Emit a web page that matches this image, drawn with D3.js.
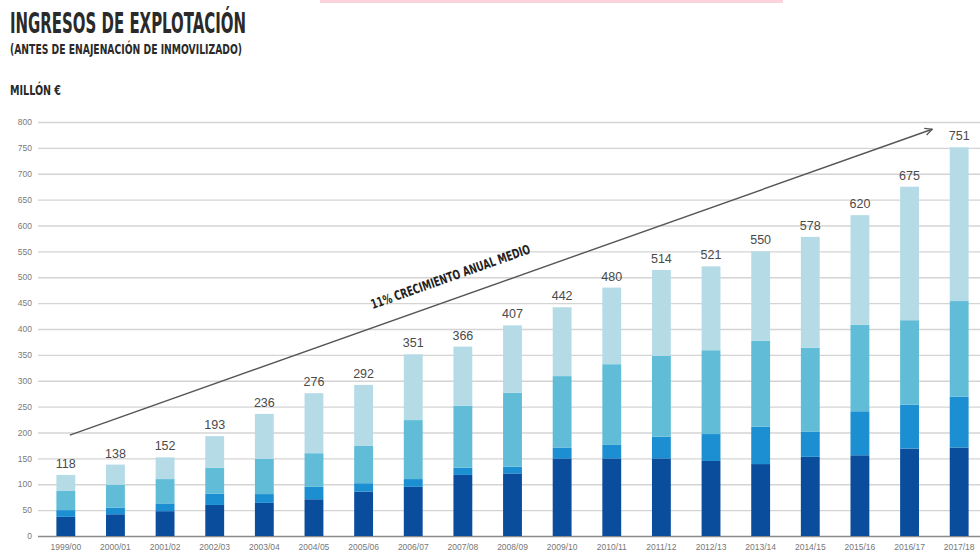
<!DOCTYPE html>
<html>
<head>
<meta charset="utf-8">
<script src="https://cdn.jsdelivr.net/npm/d3@7"></script>
<style>
  html, body { margin: 0; padding: 0; background: #fff; }
  svg { display: block; }
</style>
</head>
<body>
<svg id="chart" width="980" height="560"></svg>
<script>
// Operating revenue by fiscal year, million €
const categories = ["1999/00","2000/01","2001/02","2002/03","2003/04","2004/05","2005/06","2006/07","2007/08","2008/09","2009/10","2010/11","2011/12","2012/13","2013/14","2014/15","2015/16","2016/17","2017/18"];
const seriesDark  = [37, 42, 48, 60, 64, 71, 86, 95, 118, 121, 150, 150, 150, 145, 139, 153, 156, 169, 171];
const seriesMid   = [13, 13, 15, 22, 17, 24, 16, 15, 14, 13, 21, 26, 42, 52, 72, 49, 85, 85, 98];
const seriesLight = [37, 44, 47, 50, 68, 65, 72, 114, 120, 143, 138, 156, 156, 162, 166, 162, 167, 163, 185];
const seriesPale  = [31, 39, 42, 61, 87, 116, 118, 127, 114, 130, 133, 148, 166, 162, 173, 214, 212, 258, 297];
const totals      = [118, 138, 152, 193, 236, 276, 292, 351, 366, 407, 442, 480, 514, 521, 550, 578, 620, 675, 751];
const yTicks      = [0, 50, 100, 150, 200, 250, 300, 350, 400, 450, 500, 550, 600, 650, 700, 750, 800];
const seriesKeys  = ["dark", "mid", "light", "pale"];
const seriesColors = ["#0b4d9d", "#1b8fd2", "#61bdd7", "#b5dce6"];
const trendLabel  = "11% CRECIMIENTO ANUAL MEDIO";

const rows = categories.map((c, i) => ({
  cat: c,
  dark: seriesDark[i], mid: seriesMid[i], light: seriesLight[i], pale: seriesPale[i],
  total: totals[i]
}));

const svg = d3.select("#chart");
const condensed = "'Liberation Sans Narrow', 'DejaVu Sans Condensed', 'Roboto', sans-serif";

// thin header strip along the top edge
svg.append("rect").attr("x", 320).attr("y", 0).attr("width", 463).attr("height", 3).attr("fill", "#fcd3da");

// titles
svg.append("text").attr("x", 10).attr("y", 33)
  .attr("font-family", condensed).attr("font-weight", "bold").attr("font-size", 28)
  .attr("fill", "#2a2a2a").attr("textLength", 236).attr("lengthAdjust", "spacingAndGlyphs")
  .text("INGRESOS DE EXPLOTACIÓN");
svg.append("text").attr("x", 10).attr("y", 54)
  .attr("font-family", condensed).attr("font-weight", "bold").attr("font-size", 14)
  .attr("fill", "#2a2a2a").attr("textLength", 232).attr("lengthAdjust", "spacingAndGlyphs")
  .text("(ANTES DE ENAJENACIÓN DE INMOVILIZADO)");
svg.append("text").attr("x", 10).attr("y", 95)
  .attr("font-family", condensed).attr("font-weight", "bold").attr("font-size", 13.5)
  .attr("fill", "#2a2a2a").attr("textLength", 51).attr("lengthAdjust", "spacingAndGlyphs")
  .text("MILLÓN €");

// scales
const x = d3.scaleBand().domain(categories).range([41, 984]).paddingInner(0.62).paddingOuter(0.31);
const y = d3.scaleLinear().domain([0, 800]).range([536, 122]);

// gridlines + y labels
const yAxis = d3.axisLeft(y).tickValues(yTicks).tickSize(-(980 - 38)).tickPadding(6).tickFormat(d3.format("d"));
const gy = svg.append("g").attr("transform", "translate(38,0)").call(yAxis);
gy.select(".domain").remove();
gy.selectAll(".tick line").attr("stroke", "#d4d4d4").attr("stroke-width", 1.4);
gy.selectAll(".tick").filter(d => d === 0).select("line").attr("stroke", "#8a8a8a").attr("stroke-width", 1.4);
gy.selectAll(".tick text").attr("font-family", "'Liberation Sans', Arial, sans-serif").attr("font-size", 8.5).attr("fill", "#7a7a7a");

// stacked bars
const stack = d3.stack().keys(seriesKeys)(rows);
const color = d3.scaleOrdinal().domain(seriesKeys).range(seriesColors);
svg.append("g").selectAll("g").data(stack).join("g")
  .attr("fill", d => color(d.key))
  .selectAll("rect").data(d => d).join("rect")
  .attr("x", d => x(d.data.cat))
  .attr("width", x.bandwidth())
  .attr("y", d => y(d[1]))
  .attr("height", d => y(d[0]) - y(d[1]));

// x labels
const xAxis = d3.axisBottom(x).tickSize(0).tickPadding(8);
const gx = svg.append("g").attr("transform", "translate(0,536)").call(xAxis);
gx.select(".domain").remove();
gx.selectAll(".tick text").attr("font-family", "'Liberation Sans', Arial, sans-serif").attr("font-size", 8.5).attr("fill", "#777");

// total labels
svg.append("g").selectAll("text").data(rows).join("text")
  .attr("x", d => x(d.cat) + x.bandwidth() / 2)
  .attr("y", d => y(d.total) - 7)
  .attr("text-anchor", "middle")
  .attr("font-family", "'Liberation Sans', Arial, sans-serif")
  .attr("font-size", 12.5)
  .attr("fill", "#4a4a4a")
  .text(d => d.total);

// average growth arrow
const defs = svg.append("defs");
defs.append("marker").attr("id", "arrowhead")
  .attr("viewBox", "0 0 10 10").attr("refX", 9).attr("refY", 5)
  .attr("markerWidth", 9).attr("markerHeight", 9).attr("markerUnits", "userSpaceOnUse")
  .attr("orient", "auto")
  .append("path").attr("d", "M1,1 L9,5 L1,9").attr("fill", "none").attr("stroke", "#555").attr("stroke-width", 1.4);

const x0 = x(categories[0]) + x.bandwidth() / 2 + 4;
const x1 = x(categories[categories.length - 1]) + x.bandwidth() / 2 - 27;
const y0 = y(195), y1 = y(786);
svg.append("line").attr("x1", x0).attr("y1", y0).attr("x2", x1).attr("y2", y1)
  .attr("stroke", "#555").attr("stroke-width", 1.4).attr("marker-end", "url(#arrowhead)");

const angle = Math.atan2(y1 - y0, x1 - x0) * 180 / Math.PI;
svg.append("text")
  .attr("transform", `translate(452,281) rotate(${angle})`)
  .attr("text-anchor", "middle")
  .attr("font-family", condensed).attr("font-weight", "bold").attr("font-size", 13)
  .attr("fill", "#222").attr("textLength", 168).attr("lengthAdjust", "spacingAndGlyphs")
  .text(trendLabel);
</script>
</body>
</html>
